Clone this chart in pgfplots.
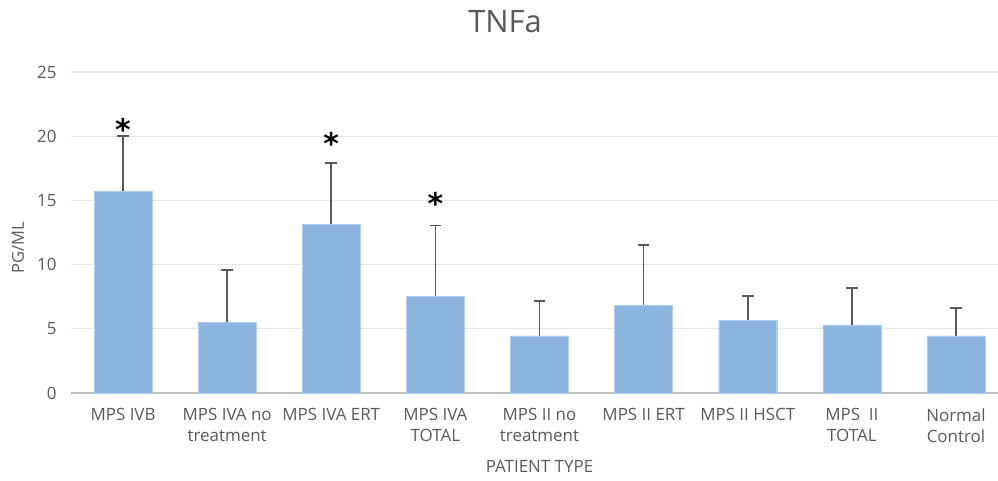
\documentclass[border=0pt]{standalone}
\usepackage{pgfplots}
\pgfplotsset{compat=1.18}
\usepackage{fontspec}
\setmainfont{Open Sans}
\newfontfamily\starfont{DejaVu Sans}
\definecolor{barblue}{HTML}{8BB5DF}
\definecolor{txtgray}{HTML}{595959}
\definecolor{gridgray}{HTML}{E6E6E6}
\definecolor{axgray}{HTML}{BFBFBF}
\definecolor{errgray}{HTML}{595959}
\begin{document}
\begin{tikzpicture}[x=1bp,y=1bp]
\path[use as bounding box] (0,0) rectangle (998,481);
\begin{axis}[
  at={(71bp,88bp)}, anchor=south west,
  scale only axis, width=937bp, height=321bp,
  xmin=-0.5, xmax=8.5, ymin=0, ymax=25,
  ytick={0,5,...,25},
  xtick={0,...,8},
  xticklabels={MPS IVB, MPS IVA no\\treatment, MPS IVA ERT, MPS IVA\\TOTAL, MPS II no\\treatment, MPS II ERT, MPS II HSCT, MPS~~II\\TOTAL, Normal\\Control},
  xticklabel style={align=center, font=\fontsize{17}{21}\selectfont, text=txtgray, yshift=-12bp},
  yticklabel style={font=\fontsize{17}{20}\selectfont, text=txtgray, xshift=-11bp},
  /pgf/number format/assume math mode=true,
  major tick length=0pt,
  ymajorgrids, grid style={gridgray, line width=1.3bp},
  axis x line*=bottom,
  axis y line*=left,
  x axis line style={draw=axgray, line width=1.6bp, -},
  y axis line style={draw=none},
  xlabel={PATIENT TYPE},
  xlabel style={font=\fontsize{17}{20}\selectfont, text=txtgray, at={(axis description cs:0.5,0)}, anchor=center, yshift=-73bp},
  clip=false,
]
\addplot[ybar, bar width=0.557, fill=barblue, draw=barblue!70!white,
  error bars/.cd, y dir=plus, y explicit,
  error bar style={errgray, line width=1.7bp},
  error mark options={errgray, line width=1.7bp, mark size=5.8bp, rotate=90}]
  coordinates {
  (0,15.73) +- (0,4.27)
  (1,5.5) +- (0,4.1)
  (2,13.14) +- (0,4.76)
  (3,7.55) +- (0,5.5)
  (4,4.44) +- (0,2.73)
  (5,6.85) +- (0,4.68)
  (6,5.66) +- (0,1.87)
  (7,5.30) +- (0,2.9)
  (8,4.44) +- (0,2.18)
  };
\addplot[only marks, mark=none, nodes near coords={\fontsize{30}{30}\selectfont\starfont\bfseries *},
  every node near coord/.append style={anchor=center, yshift=-6bp}]
  coordinates {(0,21.03) (2,19.94) (3,15.27)};
\end{axis}
\node[font=\fontsize{31}{36}\selectfont, text=txtgray] at (505,459) {TNFa};
\node[font=\fontsize{16.5}{18}\selectfont, text=txtgray, rotate=90] at (18,233) {PG/ML};
\end{tikzpicture}
\end{document}
